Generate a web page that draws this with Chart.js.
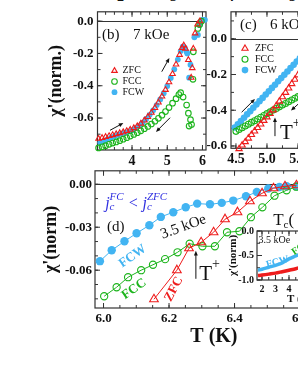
<!DOCTYPE html>
<html>
<head>
<meta charset="utf-8">
<script src="https://cdn.jsdelivr.net/npm/chart.js@4.4.1/dist/chart.umd.min.js"></script>
<style>
  body { margin: 0; background: #fff; }
  #fig { position: relative; width: 298px; height: 385px; overflow: hidden; background: #fff; }
  #fig canvas { position: absolute; }
  .cut { position: absolute; top: -11px; font: bold 14px 'Liberation Serif', serif; color: #111; }
</style>
</head>
<body>
<div id="fig">
  <!-- tick labels of the panel above, cut off by the crop -->
  <span class="cut" style="left:117px">2</span>
  <span class="cut" style="left:170px">3</span>
  <span class="cut" style="left:227px">4</span>
  <span class="cut" style="left:289px">5</span>
  <canvas id="panelB" width="214" height="170" style="left:0;top:0"></canvas>
  <canvas id="panelC" width="200" height="170" style="left:150px;top:0"></canvas>
  <canvas id="panelD" width="345" height="210" style="left:0;top:160px"></canvas>
  <canvas id="panelInset" width="160" height="95" style="left:200px;top:215px"></canvas>
</div>
<script>
const SERIF = "'Liberation Serif', 'Times New Roman', serif";
const RED = '#ee1c1c', GREEN = '#1cb41c', BLUE = '#42b4f2', INK = '#111';

// ---- panel (b): 7 kOe ----
const bZfcT = [3.05, 3.15, 3.25, 3.35, 3.45, 3.55, 3.65, 3.75, 3.85, 3.95, 4.05, 4.15, 4.25, 4.35, 4.45, 4.55, 4.65, 4.75, 4.85, 4.95, 5.05, 5.15, 5.25, 5.35, 5.42, 5.47, 5.52, 5.60, 5.68, 5.71, 5.74, 5.79, 5.86, 5.93];
const bZfcY = [-0.728, -0.723, -0.717, -0.711, -0.705, -0.699, -0.693, -0.687, -0.680, -0.672, -0.662, -0.650, -0.634, -0.615, -0.593, -0.567, -0.537, -0.503, -0.466, -0.425, -0.378, -0.327, -0.268, -0.208, -0.165, -0.150, -0.170, -0.24, -0.35, -0.29, -0.17, -0.075, -0.02, 0.0];
const bFccT = [3.05, 3.15, 3.25, 3.35, 3.45, 3.55, 3.65, 3.75, 3.85, 3.95, 4.05, 4.15, 4.25, 4.35, 4.45, 4.55, 4.65, 4.75, 4.85, 4.95, 5.05, 5.15, 5.25, 5.33, 5.38, 5.45, 5.55, 5.60, 5.66, 5.69, 5.62, 5.73, 5.74, 5.87, 5.92, 5.97];
const bFccY = [-0.785, -0.778, -0.771, -0.763, -0.755, -0.748, -0.740, -0.731, -0.722, -0.712, -0.702, -0.691, -0.679, -0.666, -0.652, -0.637, -0.620, -0.602, -0.582, -0.560, -0.535, -0.508, -0.480, -0.455, -0.443, -0.47, -0.52, -0.57, -0.61, -0.64, -0.65, -0.36, -0.19, -0.045, -0.02, 0.0];
const bFcwT = [3.10, 3.20, 3.30, 3.40, 3.50, 3.60, 3.70, 3.80, 3.90, 4.00, 4.10, 4.20, 4.30, 4.40, 4.50, 4.60, 4.70, 4.80, 4.90, 5.00, 5.10, 5.20, 5.30, 5.38, 5.44, 5.50, 5.55, 5.57, 5.62, 5.66, 5.77, 5.87, 5.92, 5.97, 6.01, 6.04, 6.07];
const bFcwY = [-0.752, -0.742, -0.732, -0.722, -0.713, -0.704, -0.697, -0.690, -0.684, -0.676, -0.664, -0.648, -0.628, -0.606, -0.580, -0.552, -0.520, -0.485, -0.446, -0.402, -0.352, -0.298, -0.238, -0.185, -0.158, -0.165, -0.19, -0.20, -0.35, -0.27, -0.10, -0.085, -0.025, 0.005, 0.008, 0.008, 0.008];
const bXTicks = [4, 5, 6];
const bYTicks = [0, -0.2, -0.4, -0.6];

// ---- panel (c): 6 kOe ----
const cZfcT = [4.55, 4.60, 4.65, 4.70, 4.75, 4.80, 4.85, 4.90, 4.95, 5.00, 5.05, 5.10, 5.15, 5.20, 5.25, 5.30, 5.35, 5.40, 5.45, 5.50, 5.55, 5.60];
const cZfcY = [-0.616, -0.596, -0.577, -0.557, -0.537, -0.517, -0.498, -0.478, -0.458, -0.438, -0.419, -0.399, -0.375, -0.350, -0.326, -0.301, -0.277, -0.252, -0.228, -0.203, -0.179, -0.155];
const cFccT = [4.50, 4.55, 4.60, 4.65, 4.70, 4.75, 4.80, 4.85, 4.90, 4.95, 5.00, 5.05, 5.10, 5.15, 5.20, 5.25, 5.30, 5.35, 5.40, 5.45, 5.50, 5.55, 5.60];
const cFccY = [-0.518, -0.508, -0.498, -0.488, -0.478, -0.468, -0.459, -0.449, -0.439, -0.429, -0.419, -0.409, -0.399, -0.390, -0.381, -0.371, -0.362, -0.352, -0.343, -0.333, -0.324, -0.315, -0.305];
const cFcwT = [4.48, 4.53, 4.58, 4.63, 4.68, 4.73, 4.78, 4.83, 4.88, 4.93, 4.98, 5.03, 5.08, 5.13, 5.18, 5.23, 5.28, 5.33, 5.38, 5.43, 5.48, 5.53, 5.58];
const cFcwY = [-0.497, -0.479, -0.460, -0.442, -0.423, -0.405, -0.386, -0.368, -0.349, -0.331, -0.312, -0.294, -0.275, -0.257, -0.238, -0.220, -0.201, -0.183, -0.164, -0.146, -0.127, -0.109, -0.090];
const cXTicks = [4.5, 5.0, 5.5, 6.0];
const cYTicks = [0, -0.2, -0.4, -0.6];

// ---- panel (d): 3.5 kOe ----
const dZfcT = [6.154, 6.224, 6.261, 6.298, 6.336, 6.371, 6.409, 6.447, 6.484, 6.519, 6.554, 6.589];
const dZfcY = [-0.0803, -0.0600, -0.0447, -0.0405, -0.0335, -0.0244, -0.0195, -0.0119, -0.0063, -0.0028, -0.0014, -0.0007];
const dFccT = [6.002, 6.040, 6.075, 6.115, 6.151, 6.188, 6.226, 6.263, 6.302, 6.340, 6.377, 6.415, 6.450, 6.485, 6.522, 6.559, 6.588];
const dFccY = [-0.0782, -0.0719, -0.0649, -0.0600, -0.0562, -0.0523, -0.0475, -0.0415, -0.0433, -0.0433, -0.0335, -0.0328, -0.0230, -0.0161, -0.0080, -0.0042, -0.0017];
const dFcwT = [5.989, 6.025, 6.064, 6.101, 6.140, 6.175, 6.213, 6.251, 6.286, 6.325, 6.361, 6.396, 6.435, 6.468, 6.503, 6.537, 6.559, 6.590];
const dFcwY = [-0.0537, -0.0461, -0.0398, -0.0342, -0.0286, -0.0228, -0.0195, -0.0161, -0.0135, -0.0140, -0.0130, -0.0114, -0.0084, -0.0054, -0.0030, -0.0019, -0.0014, -0.0014];
const dXTicks = [6.0, 6.2, 6.4, 6.6];
const dYTicks = [0, -0.03, -0.06];

// ---- inset of (d): wide temperature range ----
const insetFcwT = [1.7, 2.0, 2.5, 3.0, 3.5, 4.0, 4.5, 5.0];
const insetFcwY = [-0.80, -0.78, -0.74, -0.70, -0.65, -0.57, -0.51, -0.45];
const insetZfcT = [1.7, 2.0, 2.5, 3.0, 3.5, 4.0, 4.5, 5.0];
const insetZfcY = [-0.91, -0.90, -0.88, -0.86, -0.83, -0.80, -0.77, -0.73];
const insetXTicks = [2, 3, 4, 5, 6, 7, 8];
const insetYTicks = [0, -0.5, -1.0];

const pts = (xs, ys) => xs.map((x, i) => ({x, y: ys[i]}));
const font = (size, weight = 'bold', style = 'normal') => ({family: SERIF, size, weight, style});

// box, inward major/minor ticks, zero line
const framePlugin = {
  id: 'frame',
  beforeDraw(chart, args, opts) {
    if (!opts.fill) return;
    const a = chart.chartArea, ctx = chart.ctx;
    ctx.save();
    ctx.fillStyle = '#fff';
    ctx.fillRect(a.left, a.top, a.width, a.height);
    ctx.restore();
  },
  beforeDatasetsDraw(chart, args, opts) {
    const {ctx, chartArea: a, scales: {x, y}} = chart;
    ctx.save();
    ctx.strokeStyle = '#333';
    ctx.lineWidth = 1.2;
    ctx.strokeRect(a.left, a.top, a.width, a.height);
    if (opts.zero) {
      const py = Math.round(y.getPixelForValue(0)) + 0.5;
      ctx.beginPath(); ctx.moveTo(a.left, py); ctx.lineTo(a.right, py); ctx.stroke();
    }
    ctx.lineWidth = 1;
    const marks = (scale, step, len) => {
      const out = [];
      for (let v = Math.ceil(scale.min / step - 1e-6) * step; v <= scale.max + 1e-9; v += step) out.push([v, len]);
      return out;
    };
    const xs = marks(x, opts.xMinor, 3).concat(x.ticks.map(t => [t.value, 5]));
    const ys = marks(y, opts.yMinor, 3).concat(y.ticks.map(t => [t.value, 5]));
    ctx.beginPath();
    xs.forEach(([v, len]) => {
      const px = x.getPixelForValue(v);
      if (px < a.left || px > a.right) return;
      ctx.moveTo(px, a.bottom); ctx.lineTo(px, a.bottom - len);
      ctx.moveTo(px, a.top); ctx.lineTo(px, a.top + len);
    });
    ys.forEach(([v, len]) => {
      const py = y.getPixelForValue(v);
      if (py < a.top || py > a.bottom) return;
      ctx.moveTo(a.left, py); ctx.lineTo(a.left + len, py);
      ctx.moveTo(a.right, py); ctx.lineTo(a.right - len, py);
    });
    ctx.stroke();
    ctx.restore();
  }
};

// small legend in the upper-left corner of a panel
const keyPlugin = {
  id: 'key',
  afterDatasetsDraw(chart, args, opts) {
    if (!opts.show) return;
    const {ctx, chartArea: a} = chart;
    chart.data.datasets.forEach((ds, i) => {
      const cx = a.left + opts.dx, cy = a.top + opts.dy + i * opts.gap;
      ctx.save();
      ctx.fillStyle = ds.pointBackgroundColor;
      ctx.strokeStyle = ds.borderColor;
      ctx.lineWidth = ds.pointBorderWidth;
      Chart.helpers.drawPoint(ctx, {pointStyle: ds.pointStyle, radius: ds.pointRadius, borderWidth: ds.pointBorderWidth, rotation: 0}, cx, cy);
      ctx.fillStyle = INK;
      ctx.font = `${opts.size}px ${SERIF}`;
      ctx.textBaseline = 'middle';
      ctx.fillText(ds.label, cx + opts.tx, cy);
      ctx.restore();
    });
  }
};

// texts and arrows placed in data units
const notesPlugin = {
  id: 'notes',
  afterDatasetsDraw(chart, args, opts) {
    const {ctx, scales: {x, y}} = chart;
    (opts.items || []).forEach(it => {
      ctx.save();
      if (it.arrow) {
        const x1 = x.getPixelForValue(it.arrow[0]), y1 = y.getPixelForValue(it.arrow[1]);
        const x2 = x.getPixelForValue(it.arrow[2]), y2 = y.getPixelForValue(it.arrow[3]);
        const ang = Math.atan2(y2 - y1, x2 - x1), h = it.head || 5;
        ctx.strokeStyle = ctx.fillStyle = INK;
        ctx.lineWidth = 1;
        ctx.beginPath(); ctx.moveTo(x1, y1); ctx.lineTo(x2 - Math.cos(ang) * h * 0.8, y2 - Math.sin(ang) * h * 0.8); ctx.stroke();
        ctx.beginPath();
        ctx.moveTo(x2, y2);
        ctx.lineTo(x2 - h * Math.cos(ang - 0.4), y2 - h * Math.sin(ang - 0.4));
        ctx.lineTo(x2 - h * Math.cos(ang + 0.4), y2 - h * Math.sin(ang + 0.4));
        ctx.closePath(); ctx.fill();
      } else {
        ctx.translate(x.getPixelForValue(it.at[0]), y.getPixelForValue(it.at[1]));
        if (it.rot) ctx.rotate(it.rot * Math.PI / 180);
        ctx.fillStyle = it.color || INK;
        ctx.textBaseline = 'middle';
        let runs = it.runs || [{t: it.text, f: it.font}];
        let total = 0;
        runs.forEach(r => { ctx.font = r.f || it.font; if (!r.keep) total += ctx.measureText(r.t).width; });
        let px = it.center ? -total / 2 : 0;
        runs.forEach(r => {
          ctx.font = r.f || it.font;
          ctx.fillText(r.t, px, r.dy || 0);
          if (!r.keep) px += ctx.measureText(r.t).width;
        });
      }
      ctx.restore();
    });
  }
};

Chart.register(framePlugin, keyPlugin, notesPlugin);

function scatterSet(label, data, style, color, filled, radius, line) {
  return {
    label, data,
    pointStyle: style,
    pointRadius: radius,
    pointBorderWidth: filled ? 0 : 1.1,
    borderColor: color,
    pointBackgroundColor: filled ? color : 'rgba(0,0,0,0)',
    backgroundColor: filled ? color : 'rgba(0,0,0,0)',
    showLine: !!line,
    borderWidth: line || 0,
    clip: 6
  };
}

function axis(min, max, ticks, digits, size, fit, pad = 3) {
  return {
    type: 'linear', min, max,
    grid: {display: false, drawTicks: false},
    border: {display: false},
    afterBuildTicks: s => { s.ticks = ticks.map(v => ({value: v})); },
    afterFit: fit,
    ticks: {autoSkip: false, maxRotation: 0, padding: pad, color: INK, font: font(size),
            callback: v => Number(v).toFixed(digits)}
  };
}

const base = {
  responsive: false,
  animation: false,
  events: [],
  plugins: {legend: {display: false}, tooltip: {enabled: false}}
};

// panel (b)
new Chart(document.getElementById('panelB'), {
  type: 'scatter',
  data: {datasets: [
    scatterSet('ZFC', pts(bZfcT, bZfcY), 'triangle', RED, false, 3.2),
    scatterSet('FCC', pts(bFccT, bFccY), 'circle', GREEN, false, 2.8),
    scatterSet('FCW', pts(bFcwT, bFcwY), 'circle', BLUE, true, 2.9)
  ]},
  options: {...base,
    layout: {padding: {top: 10, right: 8, left: 0, bottom: 0}},
    scales: {
      x: axis(3.02, 6.10, bXTicks, 0, 14, s => { s.height = 20; }),
      y: {...axis(-0.798, 0.058, bYTicks, 1, 13, s => { s.width = 97.5; }, 4),
          title: {display: true, text: "χ'(norm.)", color: INK, font: font(18), padding: {top: 46, bottom: 0}}}
    },
    plugins: {...base.plugins,
      frame: {xMinor: 0.25, yMinor: 0.1, zero: true},
      key: {show: true, dx: 17, dy: 59, gap: 10.7, tx: 8, size: 10},
      notes: {items: [
        {at: [3.148, -0.083], text: '(b)', font: `15px ${SERIF}`},
        {at: [4.03, -0.083], text: '7 kOe', font: `15px ${SERIF}`},
        {arrow: [3.375, -0.676, 3.753, -0.631]},
        {arrow: [4.844, -0.313, 5.06, -0.228]},
        {arrow: [5.08, -0.598, 4.68, -0.686]}
      ]}
    }
  }
});

// panel (c)
new Chart(document.getElementById('panelC'), {
  type: 'scatter',
  data: {datasets: [
    scatterSet('ZFC', pts(cZfcT, cZfcY), 'triangle', RED, false, 3.6),
    scatterSet('FCC', pts(cFccT, cFccY), 'circle', GREEN, false, 3.0),
    scatterSet('FCW', pts(cFcwT, cFcwY), 'circle', BLUE, true, 3.3)
  ]},
  options: {...base,
    layout: {padding: {top: 10, right: 11.7, left: 0, bottom: 0}},
    scales: {
      x: axis(4.42, 6.15, cXTicks, 1, 14, s => { s.height = 21.7; }),
      y: axis(-0.613, 0.151, cYTicks, 1, 13, s => { s.width = 81; }, 4)
    },
    plugins: {...base.plugins,
      frame: {xMinor: 0.25, yMinor: 0.1, zero: true},
      key: {show: true, dx: 14, dy: 36.7, gap: 10.8, tx: 10, size: 10},
      notes: {items: [
        {at: [4.565, 0.079], text: '(c)', font: `15px ${SERIF}`},
        {at: [5.048, 0.079], text: '6 kOe', font: `15px ${SERIF}`},
        {arrow: [4.592, -0.411, 4.806, -0.337]},
        {arrow: [5.129, -0.545, 5.129, -0.44]},
        {at: [5.21, -0.529], runs: [{t: 'T', f: `21px ${SERIF}`}, {t: '+', f: `14px ${SERIF}`, dy: -10}]},
        {arrow: [5.597, -0.336, 5.387, -0.402]}
      ]}
    }
  }
});

// panel (d)
new Chart(document.getElementById('panelD'), {
  type: 'scatter',
  data: {datasets: [
    scatterSet('ZFC', pts(dZfcT, dZfcY), 'triangle', RED, false, 5, 1),
    scatterSet('FCC', pts(dFccT, dFccY), 'circle', GREEN, false, 3.6, 1),
    scatterSet('FCW', pts(dFcwT, dFcwY), 'circle', BLUE, true, 4.2, 1)
  ]},
  options: {...base,
    layout: {padding: {top: 10, right: 12.2, left: 0, bottom: 0}},
    scales: {
      x: {...axis(5.974, 6.70, dXTicks, 1, 13, s => { s.height = 62; }),
          title: {display: true, text: 'T (K)', color: INK, font: font(20), padding: {top: 0, bottom: 21.6}}},
      y: {...axis(-0.0864, 0.0094, dYTicks, 2, 13, s => { s.width = 95; }),
          title: {display: true, text: "χ'(norm)", color: INK, font: font(18), padding: {top: 41, bottom: 0}}}
    },
    plugins: {...base.plugins,
      frame: {xMinor: 0.05, yMinor: 0.01, zero: true},
      notes: {items: [
        {at: [6.005, -0.0135], color: '#3030e0', font: `italic 16px ${SERIF}`, runs: [
          {t: 'j'}, {t: 'c', f: `italic 11px ${SERIF}`, dy: 4, keep: true}, {t: 'FC', f: `italic 11px ${SERIF}`, dy: -6},
          {t: ' < '}, {t: 'j'}, {t: 'c', f: `italic 11px ${SERIF}`, dy: 4, keep: true}, {t: 'ZFC', f: `italic 11px ${SERIF}`, dy: -6}]},
        {at: [6.011, -0.0302], text: '(d)', font: `15px ${SERIF}`},
        {at: [6.244, -0.0298], text: '3.5 kOe', font: `15px ${SERIF}`, rot: -20, center: true},
        {at: [6.089, -0.0503], text: 'FCW', font: `bold 13px ${SERIF}`, color: BLUE, rot: -35, center: true},
        {at: [6.093, -0.0732], text: 'FCC', font: `bold 13px ${SERIF}`, color: GREEN, rot: -35, center: true},
        {at: [6.215, -0.0732], text: 'ZFC', font: `bold 13px ${SERIF}`, color: RED, rot: -62, center: true},
        {arrow: [6.282, -0.066, 6.282, -0.0465]},
        {at: [6.292, -0.0628], runs: [{t: 'T', f: `21px ${SERIF}`}, {t: '+', f: `14px ${SERIF}`, dy: -10}]},
        {at: [6.518, -0.0253], runs: [{t: 'T', f: `17px ${SERIF}`}, {t: 'c', f: `11px ${SERIF}`, dy: 5}, {t: '(', f: `17px ${SERIF}`}]}
      ]}
    }
  }
});

// inset of (d)
new Chart(document.getElementById('panelInset'), {
  type: 'scatter',
  data: {datasets: [
    {label: 'FCW', data: pts(insetFcwT, insetFcwY), showLine: true, borderColor: BLUE, borderWidth: 3.5, pointRadius: 0, tension: 0.3},
    {label: 'ZFC', data: pts(insetZfcT, insetZfcY), showLine: true, borderColor: RED, borderWidth: 3.5, pointRadius: 0, tension: 0.3}
  ]},
  options: {...base,
    layout: {padding: {top: 16, right: 17, left: 0, bottom: 0}},
    scales: {
      x: {...axis(1.63, 8.0, insetXTicks, 0, 10, s => { s.height = 30; }),
          title: {display: true, text: 'T (K)', color: INK, font: font(11), padding: {top: 0, bottom: 4.4}}},
      y: {...axis(-1.0, 0.0, insetYTicks, 1, 10, s => { s.width = 57; }),
          title: {display: true, text: "χ'(norm)", color: INK, font: font(11), padding: {top: 26.4, bottom: 0}}}
    },
    plugins: {...base.plugins,
      frame: {xMinor: 0.5, yMinor: 0.25, fill: true},
      notes: {items: [
        {at: [1.75, -0.184], text: '3.5 kOe', font: `10px ${SERIF}`},
        {at: [3.15, -0.633], text: 'FCW', font: `bold 10px ${SERIF}`, color: BLUE, rot: -15, center: true},
        {at: [4.9, -0.33], text: 'FCC', font: `bold 10px ${SERIF}`, color: GREEN, rot: -35, center: true}
      ]}
    }
  }
});
</script>
</body>
</html>
